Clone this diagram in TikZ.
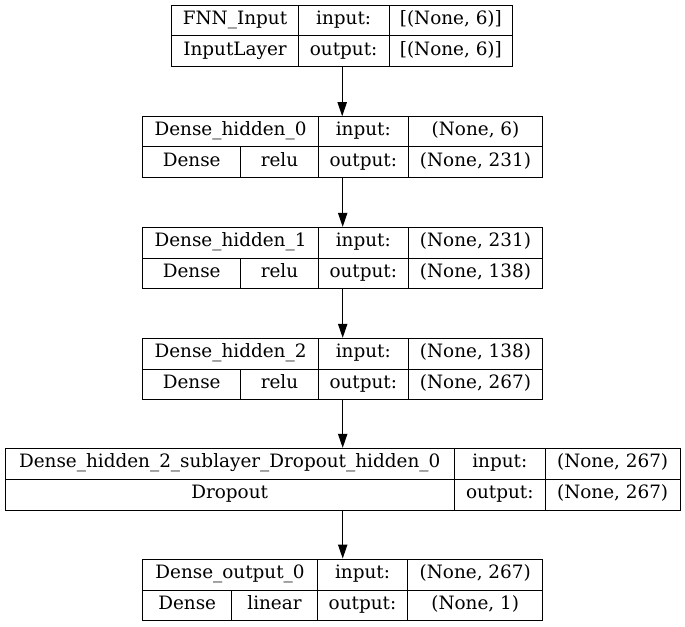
\documentclass[tikz,border=0pt]{standalone}
\usepackage{fontspec}
\setmainfont{DejaVu Serif}
\usetikzlibrary{arrows.meta}
\newcommand{\mkcell}[6]{\node[cell, minimum width={(#4-#3)*0.75pt}, minimum height={(#6-#5)*0.75pt}] (#1) at ({(#3+#4)/2},{(#5+#6)/2}) {#2};}
\newcommand{\mklayer}[5]{\node[layerbox, minimum width={(#3-#2)*0.75pt}, minimum height={(#5-#4)*0.75pt}] (#1) at ({(#2+#3)/2},{(#4+#5)/2}) {};}
\begin{document}
\begin{tikzpicture}[x=0.75pt,y=-0.75pt,
  cell/.style={draw=black, line width=0.75pt, inner sep=0pt, font=\fontsize{13.8pt}{16pt}\selectfont, text=black, text height=0.86em, text depth=0.26em},
  layerbox/.style={draw=black, line width=0.75pt, inner sep=0pt},
  arr/.style={draw=black, line width=0.75pt, -{Triangle[length=10.5pt,width=7pt]}}]
\useasboundingbox (0,0) rectangle (685,627);
\fill[white] (0,0) rectangle (685,627);
% Layer 1
\mklayer{L1}{171.7}{512.7}{5.3}{66.7}
\mkcell{c1a}{FNN\_Input}{171.7}{298.3}{5.3}{36}
\mkcell{c1b}{input:}{298.3}{389}{5.3}{36}
\mkcell{c1c}{[(None, 6)]}{389}{512.7}{5.3}{36}
\mkcell{c1d}{InputLayer}{171.7}{298.3}{36}{66.7}
\mkcell{c1e}{output:}{298.3}{389}{36}{66.7}
\mkcell{c1f}{[(None, 6)]}{389}{512.7}{36}{66.7}
% Layer 2
\mklayer{L2}{142.7}{542.7}{116.7}{177.3}
\mkcell{c2a}{Dense\_hidden\_0}{142.7}{318.3}{116.7}{147}
\mkcell{c2b}{input:}{318.3}{408.3}{116.7}{147}
\mkcell{c2c}{(None, 6)}{408.3}{542.7}{116.7}{147}
\mkcell{c2d}{Dense}{142.7}{240.7}{147}{177.3}
\mkcell{c2e}{relu}{240.7}{318.3}{147}{177.3}
\mkcell{c2f}{output:}{318.3}{408.3}{147}{177.3}
\mkcell{c2g}{(None, 231)}{408.3}{542.7}{147}{177.3}
% Layer 3
\mklayer{L3}{142.7}{542.7}{227.3}{288.3}
\mkcell{c3a}{Dense\_hidden\_1}{142.7}{318.3}{227.3}{258.3}
\mkcell{c3b}{input:}{318.3}{408.3}{227.3}{258.3}
\mkcell{c3c}{(None, 231)}{408.3}{542.7}{227.3}{258.3}
\mkcell{c3d}{Dense}{142.7}{240.7}{258.3}{288.3}
\mkcell{c3e}{relu}{240.7}{318.3}{258.3}{288.3}
\mkcell{c3f}{output:}{318.3}{408.3}{258.3}{288.3}
\mkcell{c3g}{(None, 138)}{408.3}{542.7}{258.3}{288.3}
% Layer 4
\mklayer{L4}{142.7}{542.7}{338.3}{399}
\mkcell{c4a}{Dense\_hidden\_2}{142.7}{318.3}{338.3}{369.3}
\mkcell{c4b}{input:}{318.3}{408.3}{338.3}{369.3}
\mkcell{c4c}{(None, 138)}{408.3}{542.7}{338.3}{369.3}
\mkcell{c4d}{Dense}{142.7}{240.7}{369.3}{399}
\mkcell{c4e}{relu}{240.7}{318.3}{369.3}{399}
\mkcell{c4f}{output:}{318.3}{408.3}{369.3}{399}
\mkcell{c4g}{(None, 267)}{408.3}{542.7}{369.3}{399}
% Layer 5
\mklayer{L5}{5}{680}{448.3}{510}
\mkcell{c5a}{Dense\_hidden\_2\_sublayer\_Dropout\_hidden\_0}{5}{454.3}{448.3}{479.3}
\mkcell{c5b}{input:}{454.3}{545.3}{448.3}{479.3}
\mkcell{c5c}{(None, 267)}{545.3}{680}{448.3}{479.3}
\mkcell{c5d}{Dropout}{5}{454.3}{479.3}{510}
\mkcell{c5e}{output:}{454.3}{545.3}{479.3}{510}
\mkcell{c5f}{(None, 267)}{545.3}{680}{479.3}{510}
% Layer 6
\mklayer{L6}{142.7}{542.7}{559}{620.7}
\mkcell{c6a}{Dense\_output\_0}{142.7}{317.3}{559}{590}
\mkcell{c6b}{input:}{317.3}{407.7}{559}{590}
\mkcell{c6c}{(None, 267)}{407.7}{542.7}{559}{590}
\mkcell{c6d}{Dense}{142.7}{231.7}{590}{620.7}
\mkcell{c6e}{linear}{231.7}{317.3}{590}{620.7}
\mkcell{c6f}{output:}{317.3}{407.7}{590}{620.7}
\mkcell{c6g}{(None, 1)}{407.7}{542.7}{590}{620.7}
% connectors
\draw[arr] (L1.south) -- (L1.south |- L2.north);
\draw[arr] (L2.south) -- (L2.south |- L3.north);
\draw[arr] (L3.south) -- (L3.south |- L4.north);
\draw[arr] (L4.south) -- (L4.south |- L5.north);
\draw[arr] (L5.south -| L4.south) -- (L4.south |- L6.north);
\end{tikzpicture}
\end{document}
